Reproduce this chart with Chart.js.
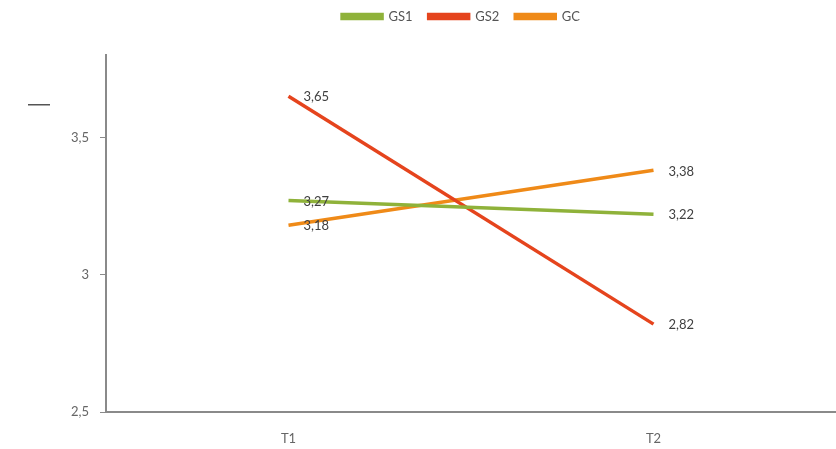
<!DOCTYPE html>
<html>
<head>
<meta charset="utf-8">
<script src="https://cdn.jsdelivr.net/npm/chart.js@4/dist/chart.umd.min.js"></script>
<style>
  html, body { margin: 0; padding: 0; background: #fff; }
  #wrap { width: 836px; height: 449px; }
</style>
</head>
<body>
<div id="wrap"><canvas id="grafico" width="836" height="449"></canvas></div>
<script>
// dados
var momentos = ['T1', 'T2'];
var gs1 = [3.27, 3.22];
var gs2 = [3.65, 2.82];
var gc = [3.18, 3.38];
var yTicks = [2.5, 3, 3.5];

var corGS1 = '#8fb23a';
var corGS2 = '#e5441d';
var corGC = '#ef8a18';
var fonte = 'Lato, "DejaVu Sans", sans-serif';

function virgula(v) {
	return String(v).replace('.', ',');
}

// ajustes da legenda + rótulos ao lado dos pontos
var rotulos = {
	id: 'rotulos',
	beforeLayout: function(chart) {
		// espaço extra abaixo da legenda
		var lg = chart.legend;
		if (lg && !lg._ajustado) {
			var fitOrig = lg.fit;
			lg.fit = function() {
				fitOrig.call(this);
				this.height = 61;
			};
			lg._ajustado = true;
		}
	},
	afterLayout: function(chart) {
		// legenda um pouco para a direita, como no original
		var lg = chart.legend;
		if (lg) {
			lg.left += 43;
			lg.right += 43;
		}
	},
	afterDatasetsDraw: function(chart) {
		var ctx = chart.ctx;
		ctx.save();
		ctx.font = '13px ' + fonte;
		ctx.fillStyle = '#404040';
		ctx.textBaseline = 'middle';
		ctx.textAlign = 'left';
		chart.data.datasets.forEach(function(ds, i) {
			var meta = chart.getDatasetMeta(i);
			meta.data.forEach(function(pt, j) {
				ctx.fillText(virgula(ds.data[j].toFixed(2)), pt.x + 15, pt.y + 1);
			});
		});
		// resto do título do eixo
		ctx.fillStyle = '#555';
		ctx.fillRect(28, 104, 22, 1.5);
		ctx.restore();
	}
};

var ctx = document.getElementById('grafico').getContext('2d');
var chart = new Chart(ctx, {
	type: 'line',
	data: {
		labels: momentos,
		datasets: [
			{ label: 'GS1', data: gs1, borderColor: corGS1, backgroundColor: corGS1 },
			{ label: 'GS2', data: gs2, borderColor: corGS2, backgroundColor: corGS2 },
			{ label: 'GC', data: gc, borderColor: corGC, backgroundColor: corGC }
		]
	},
	options: {
		responsive: false,
		animation: false,
		layout: { padding: { left: 0, right: 0, top: -6, bottom: 0 } },
		elements: {
			line: { borderWidth: 3.5, tension: 0 },
			point: { radius: 0, hoverRadius: 0 }
		},
		plugins: {
			tooltip: { enabled: false },
			legend: {
				position: 'top',
				labels: {
					boxWidth: 40,
					boxHeight: 4,
					color: '#555',
					font: { family: fonte, size: 13 },
					padding: 16
				}
			}
		},
		scales: {
			x: {
				offset: true,
				afterFit: function(s) { s.height = 37; },
				grid: { display: true, drawOnChartArea: false, drawTicks: false },
				border: { display: true, color: '#8a8a8a', width: 2 },
				ticks: {
					padding: 19,
					color: '#666',
					font: { family: fonte, size: 13 }
				}
			},
			y: {
				min: 2.5,
				max: 3.8,
				afterFit: function(s) { s.width = 106; },
				afterBuildTicks: function(s) {
					s.ticks = yTicks.map(function(v) { return { value: v }; });
				},
				grid: { display: true, drawOnChartArea: false, drawTicks: true, tickLength: 6, color: '#8a8a8a' },
				border: { display: true, color: '#8a8a8a', width: 2 },
				ticks: {
					padding: 11,
					color: '#666',
					font: { family: fonte, size: 13 },
					callback: function(v) { return virgula(v); }
				}
			}
		}
	},
	plugins: [rotulos]
});
</script>
</body>
</html>
